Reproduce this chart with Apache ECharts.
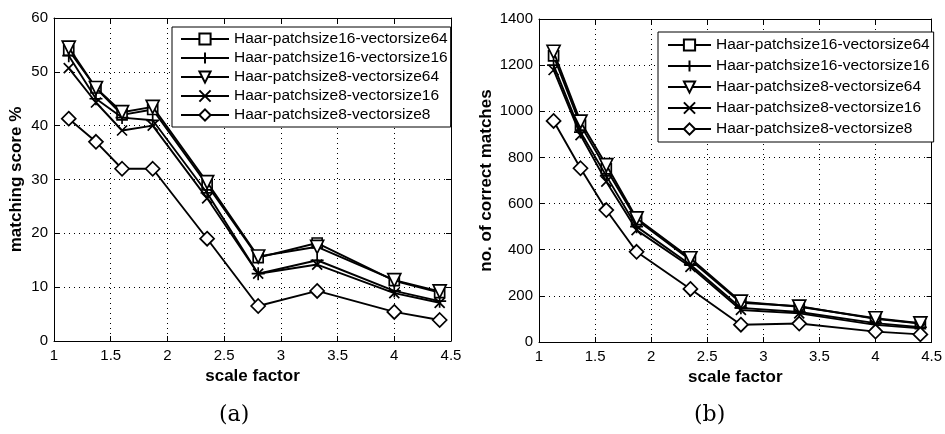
<!DOCTYPE html>
<html><head><meta charset="utf-8">
<script src="https://cdn.jsdelivr.net/npm/echarts@6/dist/echarts.min.js"></script>
<style>html,body{margin:0;padding:0;background:#fff}#c{width:945px;height:434px}</style>
</head><body><div id="c"></div>
<script>
const seriesNames = ['Haar-patchsize16-vectorsize64','Haar-patchsize16-vectorsize16','Haar-patchsize8-vectorsize64','Haar-patchsize8-vectorsize16','Haar-patchsize8-vectorsize8'];
const scaleFactors = [1.13, 1.37, 1.6, 1.87, 2.35, 2.8, 3.32, 4.0, 4.4];
// (a) matching score %
const scoreP16V64 = [54, 47, 42, 43, 29, 15.5, 18.2, 11.2, 9];
const scoreP16V16 = [53, 45, 41.5, 41, 27.5, 12.5, 15, 9.3, 7.4];
const scoreP8V64  = [54.5, 47, 42.5, 43.5, 29.5, 15.7, 17.5, 11.3, 9.2];
const scoreP8V16  = [50.7, 44.3, 39.1, 40, 26.5, 12.5, 14.2, 8.9, 7.1];
const scoreP8V8   = [41.3, 37, 32, 32, 19, 6.5, 9.3, 5.4, 3.9];
// (b) no. of correct matches
const matchP16V64 = [1240, 940, 750, 530, 355, 170, 155, 100, 80];
const matchP16V16 = [1200, 910, 720, 500, 335, 148, 130, 82, 64];
const matchP8V64  = [1258, 955, 767, 536, 363, 175, 153, 103, 81];
const matchP8V16  = [1179, 897, 695, 485, 326, 139, 124, 74, 59];
const matchP8V8   = [958, 753, 572, 391, 230, 75, 80, 45, 33];
const xTicks = {min: 1, max: 4.5, interval: 0.5};
const yTicksA = {min: 0, max: 60, interval: 10};
const yTicksB = {min: 0, max: 1400, interval: 200};

const PLUS = 'path://M5,0L5,10M0,5L10,5';
const CROSS = 'path://M0,0L10,10M10,0L0,10';
const markers = [
  {symbol:'rect', size:10, rot:0},
  {symbol:PLUS, size:13, rot:0},
  {symbol:'triangle', size:13, rot:180},
  {symbol:CROSS, size:10, rot:0},
  {symbol:'diamond', size:14, rot:0}
];
const dataA = [scoreP16V64, scoreP16V16, scoreP8V64, scoreP8V16, scoreP8V8];
const dataB = [matchP16V64, matchP16V16, matchP8V64, matchP8V16, matchP8V8];

const font = 'Liberation Sans, Arial, sans-serif';
function mkSeries(vals, k, gi){
  const m = markers[k];
  return {
    name: seriesNames[k], type:'line', xAxisIndex: gi*2, yAxisIndex: gi*2,
    data: scaleFactors.map((x,i)=>[x, vals[i]]),
    symbol: m.symbol, symbolSize: m.size, symbolRotate: m.rot, showSymbol:true,
    lineStyle:{color:'#000', width:1.9},
    itemStyle:{color:'#fff', borderColor:'#000', borderWidth:1.7},
    emphasis:{disabled:true}, animation:false, z: 3+k
  };
}
function xAx(gi, top){
  return {type:'value', gridIndex:gi, min:xTicks.min, max:xTicks.max, interval:xTicks.interval,
    position: top?'top':'bottom',
    name: top?'':'scale factor', nameLocation:'middle', nameGap:27,
    nameTextStyle:{fontFamily:font, fontWeight:'bold', fontSize:17, color:'#000'},
    axisLine:{show:true, onZero:false, lineStyle:{color:'#000', width:1}},
    axisTick:{show:true, inside:true, length:5, lineStyle:{color:'#000'}},
    axisLabel:{show:!top, fontFamily:font, fontSize:15, color:'#000', margin:7},
    splitLine:{show:!top, lineStyle:{type:[1,4], color:'#000', width:1}}};
}
function yAx(gi, ticks, name, right){
  return {type:'value', gridIndex:gi, min:ticks.min, max:ticks.max, interval:ticks.interval,
    position: right?'right':'left',
    name: right?'':name, nameLocation:'middle', nameGap: gi===0?29:44, nameRotate:90,
    nameTextStyle:{fontFamily:font, fontWeight:'bold', fontSize:17, color:'#000'},
    axisLine:{show:true, onZero:false, lineStyle:{color:'#000', width:1}},
    axisTick:{show:true, inside:true, length:5, lineStyle:{color:'#000'}},
    axisLabel:{show:!right, fontFamily:font, fontSize:15, color:'#000', margin:6, formatter: v => String(v)},
    splitLine:{show:!right, lineStyle:{type:[1,4], color:'#000', width:1}}};
}
const series = [];
for (let k=0;k<5;k++) series.push(mkSeries(dataA[k], k, 0));
for (let k=0;k<5;k++) series.push(mkSeries(dataB[k], k, 1));

const legendBase = {orient:'vertical', data: seriesNames, backgroundColor:'#fff', borderColor:'#000', borderWidth:1,
  itemHeight:14, textStyle:{fontFamily:font, fontSize:15.5, color:'#000'}, selectedMode:false, z:20};

const option = {
  animation:false,
  grid:[
    {left:54, top:18, width:397, height:323, show:false},
    {left:539, top:19, width:396, height:323, show:false}
  ],
  xAxis:[xAx(0,false), xAx(0,true), xAx(1,false), xAx(1,true)],
  yAxis:[yAx(0,yTicksA,'matching score %',false), yAx(0,yTicksA,'',true), yAx(1,yTicksB,'no. of correct matches',false), yAx(1,yTicksB,'',true)],
  legend:[
    Object.assign({}, legendBase, {left:172, top:27, itemWidth:48, itemGap:3, padding:[4,3,4,8]}),
    Object.assign({}, legendBase, {left:658, top:32, itemWidth:43, itemGap:5, padding:[5,4,5,9]})
  ],
  series: series,
  graphic:[
    {type:'text', left:219, top:404, style:{text:'(a)', font:'22px "DejaVu Serif", "Liberation Serif", serif', fill:'#000'}},
    {type:'text', left:694, top:404, style:{text:'(b)', font:'22px "DejaVu Serif", "Liberation Serif", serif', fill:'#000'}}
  ]
};
const chart = echarts.init(document.getElementById('c'), null, {renderer:'canvas'});
chart.setOption(option);
</script></body></html>
